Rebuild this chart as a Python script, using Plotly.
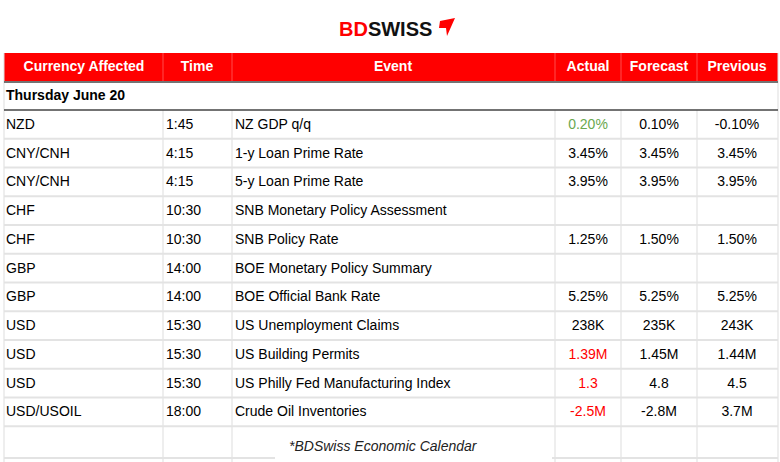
import plotly.graph_objects as go

# table data
currencies = ["NZD", "CNY/CNH", "CNY/CNH", "CHF", "CHF", "GBP", "GBP", "USD", "USD", "USD", "USD/USOIL"]
times = ["1:45", "4:15", "4:15", "10:30", "10:30", "14:00", "14:00", "15:30", "15:30", "15:30", "18:00"]
events = ["NZ GDP q/q", "1-y Loan Prime Rate", "5-y Loan Prime Rate", "SNB Monetary Policy Assessment",
          "SNB Policy Rate", "BOE Monetary Policy Summary", "BOE Official Bank Rate", "US Unemployment Claims",
          "US Building Permits", "US Philly Fed Manufacturing Index", "Crude Oil Inventories"]
actual = ["0.20%", "3.45%", "3.95%", "", "1.25%", "", "5.25%", "238K", "1.39M", "1.3", "-2.5M"]
forecast = ["0.10%", "3.45%", "3.95%", "", "1.50%", "", "5.25%", "235K", "1.45M", "4.8", "-2.8M"]
previous = ["-0.10%", "3.45%", "3.95%", "", "1.50%", "", "5.25%", "243K", "1.44M", "4.5", "3.7M"]
actual_tone = ["good", "", "", "", "", "", "", "", "bad", "bad", "bad"]
headers = ["Currency Affected", "Time", "Event", "Actual", "Forecast", "Previous"]
day_label = "Thursday June 20"
footer = "*BDSwiss Economic Calendar"

tone_color = {"good": "#6aa84f", "bad": "#ff0000", "": "#000000"}
FONT = "Liberation Sans, Arial, sans-serif"

col_edges = [4, 163, 232, 555, 621, 697, 778]
header_top, header_bot = 53, 81
day_bot = 110
row_h = 28.75
n = len(currencies)
rows_y = [day_bot + row_h * (i + 0.5) + 1 for i in range(n)]
footer_y = day_bot + row_h * n + 20
bottom = 462

fig = go.Figure()
shapes = []

# header background
shapes.append(dict(type="rect", x0=col_edges[0], x1=col_edges[-1], y0=header_top, y1=header_bot,
                   fillcolor="#ff0000", line=dict(width=0), layer="below"))
for x in col_edges[1:-1]:
    shapes.append(dict(type="line", x0=x, x1=x, y0=header_top, y1=header_bot, line=dict(color="#ff4d4d", width=1)))
for x in [col_edges[0], col_edges[-1]]:
    shapes.append(dict(type="line", x0=x, x1=x, y0=header_top, y1=bottom, line=dict(color="#dddddd", width=1)))
for x in col_edges[1:-1]:
    shapes.append(dict(type="line", x0=x, x1=x, y0=day_bot, y1=bottom, line=dict(color="#dddddd", width=1)))
shapes.append(dict(type="line", x0=col_edges[0], x1=col_edges[-1], y0=header_bot + 1, y1=header_bot + 1,
                   line=dict(color="#444444", width=1.5)))
shapes.append(dict(type="line", x0=col_edges[0], x1=col_edges[-1], y0=day_bot, y1=day_bot,
                   line=dict(color="#444444", width=1.5)))
for i in range(1, n + 1):
    y = day_bot + row_h * i
    shapes.append(dict(type="line", x0=col_edges[0], x1=col_edges[-1], y0=y, y1=y,
                       line=dict(color="#e3e3e3", width=2)))
shapes.append(dict(type="line", x0=col_edges[0], x1=275, y0=bottom - 4, y1=bottom - 4,
                   line=dict(color="#e3e3e3", width=2)))
shapes.append(dict(type="line", x0=552, x1=col_edges[-1], y0=bottom - 4, y1=bottom - 4,
                   line=dict(color="#e3e3e3", width=2)))
shapes.append(dict(type="rect", x0=276, x1=552, y0=footer_y - 12, y1=bottom, fillcolor="white",
                   line=dict(width=0)))

header_x = [84, 197, 393, 588, 659, 737]
fig.add_trace(go.Scatter(x=header_x, y=[67] * 6, mode="text", text=[f"<b>{h}</b>" for h in headers],
                         textfont=dict(family=FONT, size=14, color="white"), hoverinfo="skip"))

fig.add_trace(go.Scatter(x=[6], y=[96], mode="text", text=[f"<b>{day_label}</b>"], textposition="middle right",
                         textfont=dict(family=FONT, size=14, color="black"), hoverinfo="skip"))

for x, vals in [(6, currencies), (166, times), (235, events)]:
    fig.add_trace(go.Scatter(x=[x] * n, y=rows_y, mode="text", text=vals, textposition="middle right",
                             textfont=dict(family=FONT, size=14, color="black"), hoverinfo="skip"))
fig.add_trace(go.Scatter(x=[588] * n, y=rows_y, mode="text", text=actual,
                         textfont=dict(family=FONT, size=14, color=[tone_color[t] for t in actual_tone]),
                         hoverinfo="skip"))
for x, vals in [(659, forecast), (737, previous)]:
    fig.add_trace(go.Scatter(x=[x] * n, y=rows_y, mode="text", text=vals,
                             textfont=dict(family=FONT, size=14, color="black"), hoverinfo="skip"))

annotations = [
    dict(x=383, y=footer_y, text="<i>" + footer + "</i>", showarrow=False,
         font=dict(family=FONT, size=14, color="#222222")),
    dict(x=385, y=29, text="<b><span style='color:#ff0000'>BD</span>SWISS</b>", showarrow=False,
         font=dict(family=FONT, size=20, color="#111111")),
]
shapes.append(dict(type="path", path="M 440 21 L 455 18 L 447 36 L 446 28 L 439 28 Z",
                   fillcolor="#ff0000", line=dict(width=0)))

fig.update_layout(
    width=780, height=462, margin=dict(l=0, r=0, t=0, b=0),
    paper_bgcolor="white", plot_bgcolor="white", showlegend=False,
    xaxis=dict(range=[0, 780], visible=False, fixedrange=True),
    yaxis=dict(range=[462, 0], visible=False, fixedrange=True),
    shapes=shapes, annotations=annotations,
)

fig.write_html("out.html", config={"displayModeBar": False},
               post_script="document.body.style.margin='0';")
